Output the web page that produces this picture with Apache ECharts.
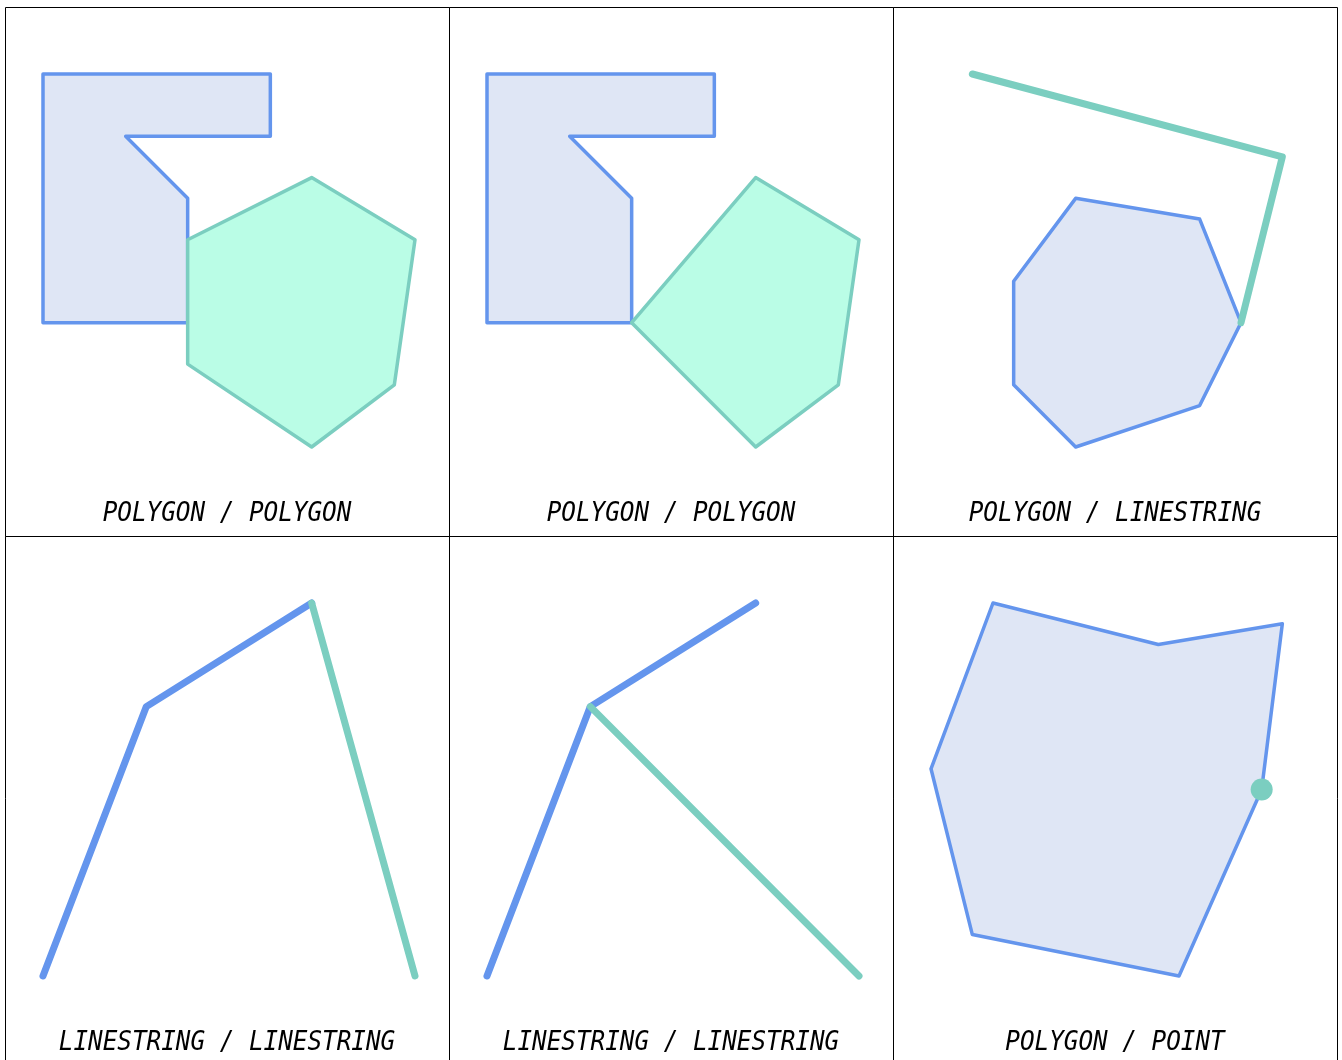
<!DOCTYPE html>
<html>
<head>
<meta charset="utf-8">
<script src="https://cdn.jsdelivr.net/npm/echarts@6/dist/echarts.min.js"></script>
<style>
  html, body { margin: 0; padding: 0; background: #fff; }
  #chart { width: 1342px; height: 1060px; }
</style>
</head>
<body>
<div id="chart"></div>
<script>
// geometry in grid units (0..18), y grows downwards
const panelTitles = [
  'POLYGON / POLYGON', 'POLYGON / POLYGON', 'POLYGON / LINESTRING',
  'LINESTRING / LINESTRING', 'LINESTRING / LINESTRING', 'POLYGON / POINT'
];
const lShape = [[0, 0], [11, 0], [11, 3], [4, 3], [7, 6], [7, 12], [0, 12]];
const hexagon = [[13, 5], [18, 8], [17, 15], [13, 18], [7, 14], [7, 8]];
const pentagon = [[13, 5], [18, 8], [17, 15], [13, 18], [7, 12]];
const heptagon = [[7, 6], [13, 7], [15, 12], [13, 16], [7, 18], [4, 15], [4, 10]];
const bentLine = [[2, 0], [17, 4], [15, 12]];
const blueLine = [[0, 18], [5, 5], [13, 0]];
const greenLine4 = [[13, 0], [18, 18]];
const greenLine5 = [[5, 5], [18, 18]];
const bigPolygon = [[3, 0], [11, 2], [17, 1], [16, 9], [12, 18], [2, 16], [0, 8]];
const touchPoint = [[16, 9]];

const BLUE = '#6495ED', BLUE_FILL = '#DFE6F5';
const GREEN = '#7BCEC0', GREEN_FILL = '#BAFDE6';

const chart = echarts.init(document.getElementById('chart'));

const grids = [], xAxes = [], yAxes = [], graphics = [];
for (let i = 0; i < 6; i++) {
  const c = i % 3, r = Math.floor(i / 3);
  grids.push({ left: 43 + 444 * c, top: 74 + 529 * r, width: 372, height: 373 });
  xAxes.push({ type: 'value', gridIndex: i, min: 0, max: 18, show: false });
  yAxes.push({ type: 'value', gridIndex: i, min: 0, max: 18, inverse: true, show: false });
  graphics.push({
    type: 'rect', silent: true,
    shape: { x: 5.5 + 444 * c, y: 7.5 + 529 * r, width: 444, height: 529 },
    style: { fill: null, stroke: '#000', lineWidth: 1 }
  });
  graphics.push({
    type: 'text', silent: true,
    x: 227 + 444 * c, y: 514 + 529 * r, scaleX: 0.9,
    style: {
      text: panelTitles[i], textAlign: 'center', textVerticalAlign: 'middle',
      font: 'italic 27px "DejaVu Sans Mono"', fill: '#000'
    }
  });
}

function polygon(idx, pts, stroke, fill) {
  return {
    type: 'custom', xAxisIndex: idx, yAxisIndex: idx, data: pts, silent: true, clip: false,
    renderItem: function (params, api) {
      if (params.dataIndex !== 0) return;
      return {
        type: 'polygon',
        shape: { points: pts.map(p => api.coord(p)) },
        style: { fill: fill, stroke: stroke, lineWidth: 3.5, lineJoin: 'round' }
      };
    }
  };
}

function line(idx, pts, color) {
  return {
    type: 'line', xAxisIndex: idx, yAxisIndex: idx, data: pts, showSymbol: false,
    silent: true, clip: false,
    lineStyle: { color: color, width: 7, cap: 'round', join: 'round' }
  };
}

chart.setOption({
  animation: false,
  grid: grids,
  xAxis: xAxes,
  yAxis: yAxes,
  graphic: graphics,
  series: [
    polygon(0, lShape, BLUE, BLUE_FILL),
    polygon(0, hexagon, GREEN, GREEN_FILL),
    polygon(1, lShape, BLUE, BLUE_FILL),
    polygon(1, pentagon, GREEN, GREEN_FILL),
    polygon(2, heptagon, BLUE, BLUE_FILL),
    line(2, bentLine, GREEN),
    line(3, blueLine, BLUE),
    line(3, greenLine4, GREEN),
    line(4, blueLine, BLUE),
    line(4, greenLine5, GREEN),
    polygon(5, bigPolygon, BLUE, BLUE_FILL),
    {
      type: 'scatter', xAxisIndex: 5, yAxisIndex: 5, data: touchPoint,
      symbolSize: 22, itemStyle: { color: GREEN, opacity: 1 }, silent: true
    }
  ]
});
</script>
</body>
</html>
